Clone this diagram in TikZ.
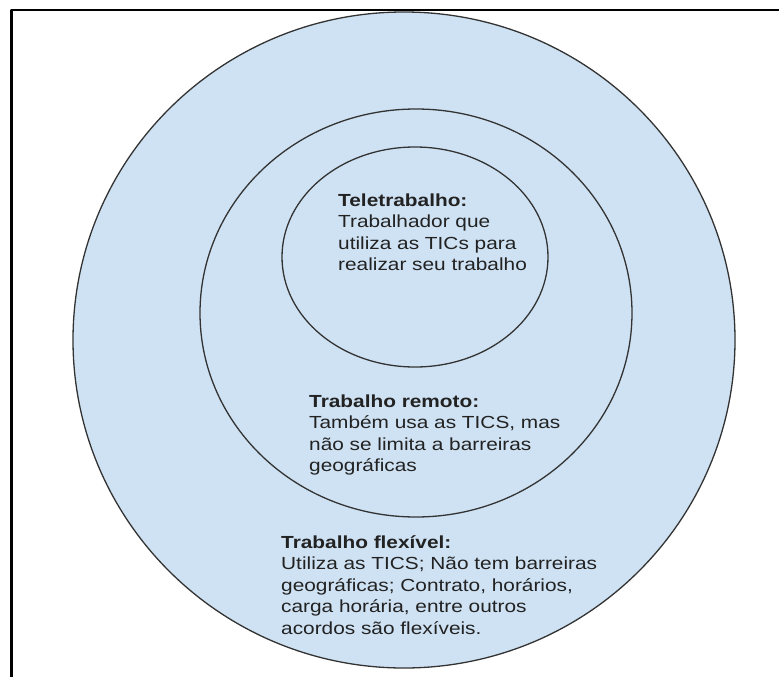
\documentclass[tikz,border=0pt]{standalone}
\usepackage{fontspec}
\setmainfont{Liberation Sans}[FakeStretch=1.19]
\definecolor{ringfill}{HTML}{CFE2F3}
\definecolor{ringline}{HTML}{333333}
\definecolor{labeltext}{HTML}{222222}
\tikzset{
  ring/.style={draw=ringline,fill=ringfill,line width=1.3pt},
  ringlabel/.style={anchor=base west,align=left,inner sep=0pt,text=labeltext,
    font=\fontsize{17.5}{21.5}\selectfont},
}
\begin{document}
\begin{tikzpicture}[x=1pt,y=-1pt,line cap=round,line join=round]
  \useasboundingbox (0,0) rectangle (779,677);
  % Frame (only top and left edges show)
  \draw[line width=2.5pt,line cap=butt] (11.5,677) -- (11.5,10) -- (779,10);

  % Nested rings, outermost first
  \draw[ring] (404,340) ellipse [x radius=331, y radius=328];
  \draw[ring] (416,313) ellipse [x radius=216, y radius=204];
  \draw[ring] (415,257) ellipse [x radius=133, y radius=110];

  % Ring labels (base anchor sits on the last line)
  \node[ringlabel] (tele) at (338,270.5)
    {\textbf{Teletrabalho:}\\Trabalhador que\\utiliza as TICs para\\realizar seu trabalho};
  \node[ringlabel] (remoto) at (309,471.5)
    {\textbf{Trabalho remoto:}\\Também usa as TICS, mas\\não se limita a barreiras\\geográficas};
  \node[ringlabel] (flexivel) at (281,634)
    {\textbf{Trabalho flexível:}\\Utiliza as TICS; Não tem barreiras\\geográficas; Contrato, horários,\\carga horária, entre outros\\acordos são flexíveis.};
\end{tikzpicture}
\end{document}
